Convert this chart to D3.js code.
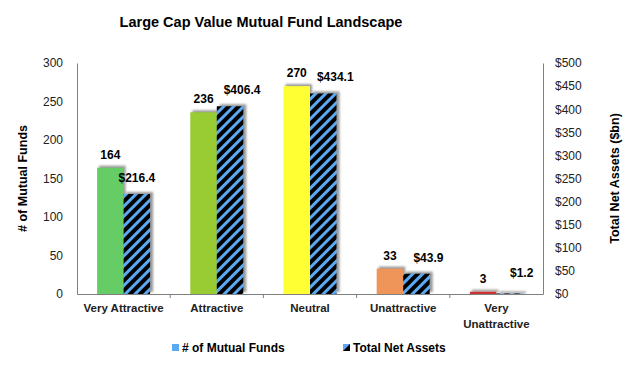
<!DOCTYPE html>
<html lang='en'>
<head>
<meta charset='utf-8'>
<title>Large Cap Value Mutual Fund Landscape</title>
<script src="https://d3js.org/d3.v7.min.js"></script>
<style>
    body { margin: 0; background: white; }
    text { font-family: "Liberation Sans", Arial, sans-serif; }
</style>
</head>
<body>
<div id='chart'></div>
<script>
    // data
    const categories = ["Very Attractive", "Attractive", "Neutral", "Unattractive", "Very Unattractive"];
    const fundCounts = [164, 236, 270, 33, 3];
    const netAssets = [216.4, 406.4, 434.1, 43.9, 1.2];
    const barColors = ["#66cc66", "#99cc33", "#ffff33", "#f0955a", "#cc3333"];
    const leftTicks = [0, 50, 100, 150, 200, 250, 300];
    const rightTicks = [0, 50, 100, 150, 200, 250, 300, 350, 400, 450, 500];

    let margin = {top: 63, right: 87, bottom: 74, left: 77};
    let size = {width: 630, height: 368};
    size.inner_w = size.width - margin.left - margin.right;
    size.inner_h = size.height - margin.top - margin.bottom;

    let svg = d3.select("#chart").append("svg")
        .attr("width", size.width)
        .attr("height", size.height);

    // hatch pattern + shadow
    let defs = svg.append("defs");
    let pat = defs.append("pattern")
        .attr("id", "hatch")
        .attr("patternUnits", "userSpaceOnUse")
        .attr("width", 7).attr("height", 7)
        .attr("patternTransform", "rotate(45)");
    pat.append("rect").attr("width", 7).attr("height", 7).attr("fill", "#000");
    pat.append("rect").attr("width", 3).attr("height", 7).attr("fill", "#5aa9f2");

    let flt = defs.append("filter").attr("id", "blur")
        .attr("x", "-20%").attr("y", "-20%").attr("width", "140%").attr("height", "140%");
    flt.append("feGaussianBlur").attr("stdDeviation", 1);

    let g = svg.append("g").attr("transform", `translate(${margin.left},${margin.top})`);

    let x = d3.scaleBand().domain(categories).range([0, size.inner_w]);
    let xs = d3.scaleBand().domain(["funds", "assets"]).range([0, 53]);
    let yL = d3.scaleLinear().domain([0, 300]).range([size.inner_h, 0]);
    let yR = d3.scaleLinear().domain([0, 500]).range([size.inner_h, 0]);

    let groupOffset = (x.bandwidth() - 53) / 2;

    let rows = categories.map((c, i) => ({cat: c, funds: fundCounts[i], assets: netAssets[i], color: barColors[i]}));

    // shadows
    let shadow = g.append("g").attr("filter", "url(#blur)");
    rows.forEach(d => {
        shadow.append("rect")
            .attr("x", x(d.cat) + groupOffset + xs("funds") + 2)
            .attr("y", yL(d.funds) - 2)
            .attr("width", xs.bandwidth())
            .attr("height", Math.max(0, size.inner_h - yL(d.funds)))
            .attr("fill", "#999");
        shadow.append("rect")
            .attr("x", x(d.cat) + groupOffset + xs("assets") + 3)
            .attr("y", yR(d.assets) - 2)
            .attr("width", xs.bandwidth())
            .attr("height", Math.max(2, size.inner_h - yR(d.assets)))
            .attr("fill", "#999");
    });

    // bars
    g.selectAll(".fund").data(rows).enter().append("rect")
        .attr("x", d => x(d.cat) + groupOffset + xs("funds"))
        .attr("y", d => yL(d.funds))
        .attr("width", xs.bandwidth())
        .attr("height", d => size.inner_h - yL(d.funds))
        .attr("fill", d => d.color);

    g.selectAll(".asset").data(rows).enter().append("rect")
        .attr("x", d => x(d.cat) + groupOffset + xs("assets"))
        .attr("y", d => yR(d.assets))
        .attr("width", xs.bandwidth())
        .attr("height", d => size.inner_h - yR(d.assets))
        .attr("fill", "url(#hatch)");

    // value labels
    let fundLblY = d => yL(d.funds) - 9;
    let assetLblY = d => Math.min(yR(d.assets) - 12, size.inner_h - 17);

    g.selectAll(".lblF").data(rows).enter().append("text")
        .attr("x", d => x(d.cat) + groupOffset + xs("funds") + xs.bandwidth() / 2)
        .attr("y", fundLblY)
        .attr("text-anchor", "middle")
        .style("font-size", "12px").style("font-weight", "bold")
        .text(d => d.funds);

    g.selectAll(".lblA").data(rows).enter().append("text")
        .attr("x", d => {
            let cx = x(d.cat) + groupOffset + xs("assets") + xs.bandwidth() / 2;
            // push right when it would collide with the count label
            return Math.abs(assetLblY(d) - fundLblY(d)) < 12 ? cx + 12 : cx;
        })
        .attr("y", assetLblY)
        .attr("text-anchor", "middle")
        .style("font-size", "12px").style("font-weight", "bold")
        .text(d => "$" + d.assets.toFixed(1));

    // axes
    let axisL = g.append("g")
        .call(d3.axisLeft(yL).tickValues(leftTicks).tickSize(0).tickPadding(14));
    let axisR = g.append("g")
        .attr("transform", `translate(${size.inner_w},0)`)
        .call(d3.axisRight(yR).tickValues(rightTicks).tickSize(0).tickPadding(12).tickFormat(d => "$" + d));
    let axisB = g.append("g")
        .attr("transform", `translate(0,${size.inner_h})`)
        .call(d3.axisBottom(x).tickSize(0).tickFormat(""));

    [axisL, axisR, axisB].forEach(a => {
        a.select(".domain").attr("stroke", "#808080");
        a.selectAll("text").style("font-size", "12px").style("font-family", "Liberation Sans, Arial, sans-serif").attr("fill", "#222");
    });

    // category separators on x axis
    g.selectAll(".sep").data(categories.slice(1)).enter().append("line")
        .attr("x1", d => x(d)).attr("x2", d => x(d))
        .attr("y1", size.inner_h).attr("y2", size.inner_h + 4)
        .attr("stroke", "#808080");

    // x labels
    let xl = g.selectAll(".xl").data(categories).enter().append("text")
        .attr("x", d => x(d) + x.bandwidth() / 2)
        .attr("y", size.inner_h + 18)
        .attr("text-anchor", "middle")
        .style("font-size", "11.5px").style("font-weight", "bold").attr("fill", "#222");
    xl.each(function(d) {
        let t = d3.select(this);
        if (d == "Very Unattractive") {
            t.append("tspan").attr("x", x(d) + x.bandwidth() / 2).text("Very");
            t.append("tspan").attr("x", x(d) + x.bandwidth() / 2).attr("dy", 16).text("Unattractive");
        } else {
            t.text(d);
        }
    });

    // title
    svg.append("text")
        .attr("x", 261).attr("y", 27)
        .attr("text-anchor", "middle")
        .style("font-size", "14.5px").style("font-weight", "bold")
        .text("Large Cap Value Mutual Fund Landscape");

    // axis titles
    svg.append("text")
        .attr("transform", `translate(27,${margin.top + size.inner_h / 2}) rotate(-90)`)
        .attr("text-anchor", "middle")
        .style("font-size", "12.5px").style("font-weight", "bold")
        .text("# of Mutual Funds");

    svg.append("text")
        .attr("transform", `translate(619,${margin.top + size.inner_h / 2}) rotate(-90)`)
        .attr("text-anchor", "middle")
        .style("font-size", "12.5px").style("font-weight", "bold")
        .text("Total Net Assets ($bn)");

    // legend
    let legend = svg.append("g").attr("transform", "translate(0,352)");
    legend.append("rect").attr("x", 172).attr("y", -8).attr("width", 7).attr("height", 7).attr("fill", "#5aa9f2");
    legend.append("text").attr("x", 182).attr("y", 0)
        .style("font-size", "12px").style("font-weight", "bold").text("# of Mutual Funds");
    legend.append("rect").attr("x", 343).attr("y", -8).attr("width", 7).attr("height", 7).attr("fill", "#5aa9f2");
    legend.append("path").attr("d", "M343,-1 L350,-8 L350,-1 Z").attr("fill", "#000");
    legend.append("text").attr("x", 353).attr("y", 0)
        .style("font-size", "12px").style("font-weight", "bold").text("Total Net Assets");
</script>
</body>
</html>
